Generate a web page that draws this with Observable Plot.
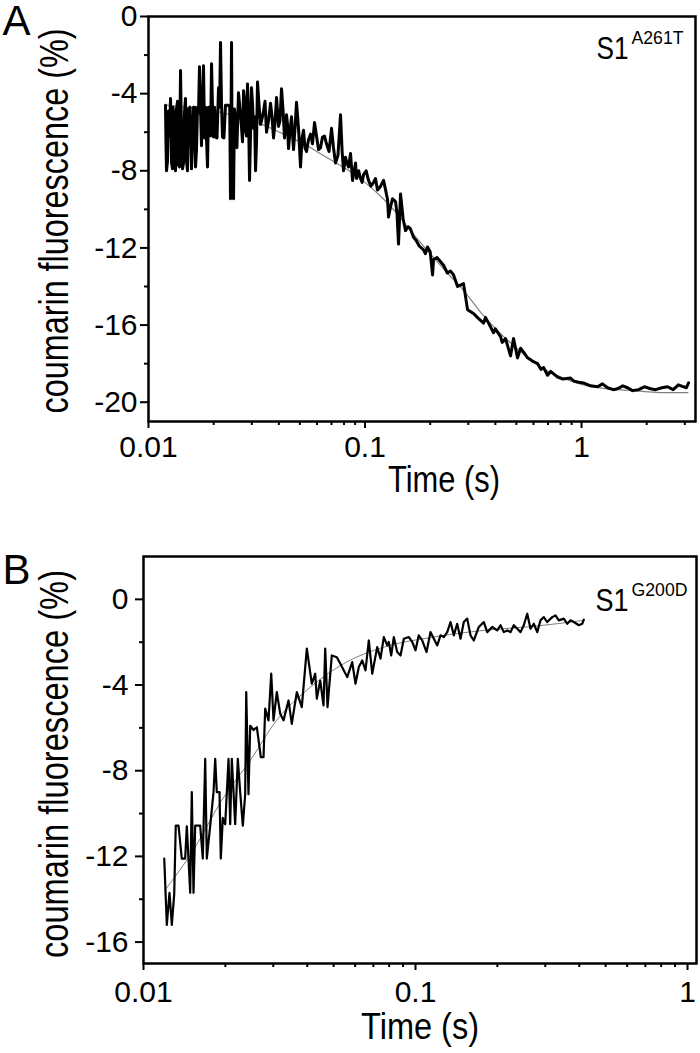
<!DOCTYPE html>
<html><head><meta charset="utf-8">
<script src="https://cdn.jsdelivr.net/npm/d3@7"></script>
<script src="https://cdn.jsdelivr.net/npm/@observablehq/plot@0.6"></script>
<style>body{margin:0;background:#fff} #chart svg{display:block}</style>
</head><body><div id="chart"></div>
<script>
// ---- Panel A (S1 A261T): measured trace ----
const timeA = [0.01198,0.01204,0.01211,0.01224,0.01237,0.0125,0.01264,0.01278,0.01291,0.01298,0.01305,0.01319,0.01333,0.0134,0.01347,0.01362,0.01376,0.0139,0.01406,0.01413,0.01421,0.01436,0.01451,0.01466,0.01482,0.01498,0.01514,0.01522,0.0153,0.01555,0.0158,0.01597,0.01614,0.01632,0.01649,0.01666,0.01684,0.01702,0.0172,0.01738,0.01757,0.01776,0.01795,0.01815,0.01834,0.01853,0.01873,0.01893,0.01913,0.01934,0.01955,0.01975,0.01996,0.02018,0.02039,0.02072,0.02106,0.0213,0.02151,0.02175,0.02197,0.0223,0.02268,0.02305,0.02342,0.02372,0.02392,0.02418,0.0243,0.0247,0.02495,0.02523,0.0256,0.02604,0.0265,0.02689,0.02718,0.02747,0.02775,0.02806,0.02836,0.02866,0.02897,0.02928,0.0296,0.02991,0.03025,0.03055,0.0309,0.03121,0.03155,0.03188,0.0324,0.03291,0.03345,0.03398,0.03452,0.03508,0.03585,0.03661,0.0372,0.03779,0.0384,0.03902,0.03986,0.04048,0.04115,0.0418,0.04248,0.0434,0.04385,0.04433,0.045,0.04576,0.04675,0.0475,0.04826,0.0493,0.05036,0.0512,0.052,0.0528,0.05368,0.0548,0.05601,0.0572,0.05845,0.0597,0.06099,0.0623,0.06364,0.065,0.06641,0.0682,0.07004,0.0715,0.07308,0.075,0.07707,0.0784,0.07957,0.08128,0.0825,0.08392,0.08572,0.0865,0.08756,0.0904,0.09137,0.0935,0.09534,0.097,0.09843,0.1012,0.1038,0.1065,0.1095,0.1118,0.1142,0.118,0.1218,0.1245,0.1271,0.1284,0.131,0.134,0.1383,0.1405,0.1428,0.1459,0.15,0.1539,0.158,0.162,0.1675,0.172,0.178,0.1863,0.19,0.1944,0.2,0.2051,0.2073,0.215,0.2305,0.24,0.2483,0.2564,0.2675,0.2851,0.2975,0.3171,0.33,0.3528,0.36,0.372,0.3923,0.4,0.4226,0.43,0.4457,0.47,0.4853,0.5064,0.5228,0.54,0.5634,0.6,0.6267,0.65,0.6677,0.6968,0.72,0.775,0.82,0.8898,0.92,0.9586,1.022,1.1,1.186,1.25,1.319,1.4,1.467,1.55,1.632,1.72,1.834,1.95,2.084,2.2,2.35,2.497,2.65,2.8,2.96,3.05,3.121];
const signalA = [-4.6,-6.5,-8.0,-7.5,-4.9,-6.2,-4.25,-7.6,-7.9,-4.7,-5.0,-7.2,-8.0,-5.5,-4.8,-4.4,-7.7,-7.8,-2.8,-4.6,-6.0,-7.9,-7.6,-5.0,-4.25,-7.5,-8.0,-6.3,-4.8,-4.7,-7.9,-6.5,-4.7,-4.7,-7.8,-6.9,-4.7,-5.0,-2.6,-4.6,-6.7,-4.7,-2.55,-6.3,-4.7,-6.3,-7.8,-4.7,-4.7,-6.2,-2.45,-4.7,-6.25,-4.7,-6.25,-6.3,-3.7,-4.7,-1.35,-4.6,-6.25,-6.3,-4.6,-4.6,-4.6,-4.7,-9.45,-1.35,-5.5,-9.45,-4.8,-5.3,-6.8,-3.95,-4.9,-5.75,-6.5,-3.85,-4.3,-5.9,-6.2,-3.5,-5.0,-8.5,-6.0,-3.7,-4.6,-5.8,-5.2,-8.0,-6.5,-3.4,-4.6,-5.6,-5.3,-4.9,-4.4,-6.0,-5.4,-4.5,-5.2,-6.3,-5.5,-4.2,-5.7,-5.4,-3.75,-4.8,-6.3,-5.1,-5.6,-6.85,-6.0,-5.2,-6.9,-5.8,-4.45,-5.8,-7.8,-6.3,-5.9,-6.8,-7.0,-6.4,-6.1,-6.6,-5.5,-6.2,-6.9,-6.8,-6.25,-6.2,-6.6,-7.0,-5.8,-6.8,-7.6,-7.2,-5.1,-7.0,-8.0,-7.3,-7.6,-7.8,-7.1,-7.7,-8.5,-7.6,-8.4,-8.0,-8.4,-8.6,-8.2,-8.0,-8.5,-8.8,-8.6,-8.4,-9.0,-8.8,-8.5,-9.0,-9.5,-10.4,-9.9,-9.45,-9.6,-10.2,-11.8,-9.2,-10.5,-11.1,-10.9,-11.0,-11.45,-11.6,-11.9,-12.1,-12.3,-11.95,-12.2,-13.4,-12.6,-12.5,-12.9,-13.3,-13.2,-13.4,-14.0,-13.85,-15.2,-15.4,-15.6,-15.9,-15.6,-15.9,-16.4,-16.2,-16.6,-16.9,-16.7,-17.6,-16.7,-17.7,-17.2,-17.4,-17.7,-17.9,-18.0,-18.3,-18.2,-18.6,-18.4,-18.7,-18.8,-18.75,-18.9,-18.95,-19.0,-19.15,-19.2,-19.05,-19.25,-19.35,-19.3,-19.15,-19.25,-19.4,-19.35,-19.2,-19.3,-19.35,-19.25,-19.2,-19.35,-19.1,-19.2,-19.25,-19.0];
// ---- Panel A fit ----
const fitTimeA = [0.012,0.016,0.02,0.025,0.032,0.042,0.052,0.062,0.07,0.083,0.1,0.12,0.14,0.162,0.2,0.24,0.285,0.34,0.41,0.49,0.58,0.7,0.85,1.02,1.3,1.74,2.3,3.1];
const fitA = [-4.6,-4.75,-4.9,-5.15,-5.5,-6.1,-6.6,-7.1,-7.45,-7.95,-8.6,-9.4,-10.2,-11.1,-12.3,-13.3,-14.2,-15.3,-16.3,-17.1,-17.8,-18.4,-18.8,-19.1,-19.3,-19.4,-19.5,-19.5];

// ---- Panel B (S1 G200D): measured trace ----
const timeB = [0.01192,0.01218,0.01246,0.01271,0.01297,0.01314,0.01345,0.01383,0.01423,0.01443,0.01485,0.01505,0.01527,0.01549,0.01616,0.01652,0.01686,0.01709,0.01759,0.01809,0.01835,0.0186,0.01903,0.01924,0.01957,0.01997,0.02054,0.02083,0.02112,0.02173,0.02222,0.02267,0.02318,0.02365,0.02386,0.02432,0.02468,0.02538,0.0261,0.0267,0.02699,0.02762,0.02802,0.02881,0.02948,0.03006,0.03091,0.03181,0.03271,0.03413,0.03509,0.03661,0.03819,0.03985,0.04157,0.04278,0.04337,0.04463,0.0459,0.04656,0.04748,0.04924,0.05137,0.05287,0.0561,0.05852,0.06017,0.06188,0.06369,0.06549,0.06735,0.06932,0.07231,0.07436,0.07647,0.0787,0.07977,0.08141,0.08322,0.08565,0.08808,0.09058,0.0945,0.09726,0.1,0.1028,0.1058,0.1098,0.1135,0.1168,0.1202,0.1236,0.1271,0.1308,0.1345,0.1383,0.1423,0.1464,0.1505,0.1549,0.1593,0.1638,0.1709,0.1783,0.1835,0.1914,0.1997,0.2054,0.2112,0.2174,0.2235,0.2298,0.2366,0.2433,0.2501,0.2575,0.2647,0.2722,0.2802,0.2881,0.2963,0.3049,0.3181,0.3271,0.3364,0.3509,0.3612,0.3714,0.382,0.3985,0.4101,0.4157];
const signalB = [-12.1,-15.2,-13.7,-15.2,-13.75,-10.56,-10.56,-12.1,-12.1,-10.6,-13.7,-9.0,-13.7,-10.56,-10.56,-12.1,-7.45,-12.1,-10.56,-9.0,-7.45,-9.0,-9.0,-12.1,-10.2,-10.5,-7.45,-10.5,-7.45,-10.5,-7.45,-9.0,-10.56,-9.1,-4.33,-9.1,-5.9,-6.1,-5.97,-6.9,-7.37,-7.37,-5.1,-5.65,-3.47,-5.65,-4.33,-5.34,-5.65,-4.72,-5.81,-4.33,-5.03,-2.3,-3.94,-3.47,-4.64,-3.79,-4.95,-2.3,-5.03,-2.62,-2.7,-3.0,-3.63,-2.93,-3.94,-3.16,-2.85,-3.32,-1.92,-3.47,-2.23,-2.77,-1.76,-2.15,-1.99,-2.62,-1.76,-2.46,-2.62,-1.84,-1.76,-1.99,-2.38,-1.68,-1.92,-2.46,-1.53,-1.84,-2.15,-1.68,-1.76,-1.53,-1.06,-1.68,-1.14,-1.84,-1.06,-0.9,-1.68,-1.92,-1.29,-1.06,-1.53,-1.29,-1.45,-1.21,-1.53,-1.45,-1.53,-1.21,-1.37,-1.53,-1.21,-0.67,-1.37,-1.14,-1.53,-0.98,-0.83,-1.06,-0.83,-0.75,-0.98,-0.9,-1.14,-0.98,-1.06,-1.21,-1.14,-0.95];
// ---- Panel B fit ----
const fitTimeB = [0.01194,0.01527,0.01935,0.02475,0.03084,0.04107,0.0545,0.07647,0.1168,0.1783,0.2722,0.4157];
const fitB = [-13.6,-11.7,-9.4,-7.5,-5.65,-4.1,-3.0,-2.23,-1.76,-1.45,-1.26,-0.98];

// ---- axes ----
const xMajorA = [0.01, 0.1, 1];
const xMinorA = [0.02,0.03,0.04,0.05,0.06,0.07,0.08,0.09,0.2,0.3,0.4,0.5,0.6,0.7,0.8,0.9,2,3];
const xMajorB = [0.01, 0.1, 1];
const xMinorB = [0.02,0.03,0.04,0.05,0.06,0.07,0.08,0.09,0.2,0.3,0.4,0.5,0.6,0.7,0.8,0.9];
const yMajorA = [0,-4,-8,-12,-16,-20];
const yMinorA = [-2,-6,-10,-14,-18];
const yMajorB = [0,-4,-8,-12,-16];
const yMinorB = [-2,-6,-10,-14];

const yTitle = "coumarin fluorescence (%)";
const xTitle = "Time (s)";
const labelA = "S1", supA = "A261T";
const labelB = "S1", supB = "G200D";

const font = "'Liberation Sans', Arial, Helvetica, sans-serif";

const rows = (ts, vs) => d3.sort(ts.map((t, i) => ({t, v: vs[i]})), d => d.t);

function axes(xMajor, xMinor, yMajor, yMinor, xPad, yPad) {
  return [
    Plot.axisX({ticks: xMajor, tickSize: 7, strokeWidth: 2, tickPadding: xPad, fontSize: 30, tickFormat: d => String(d), label: null}),
    Plot.axisX({ticks: xMinor, tickSize: 4, strokeWidth: 2, tickFormat: () => "", label: null}),
    Plot.axisY({ticks: yMajor, tickSize: 8, strokeWidth: 2, tickPadding: yPad, fontSize: 30, tickFormat: d => String(d), label: null}),
    Plot.axisY({ticks: yMinor, tickSize: 4, strokeWidth: 2, tickFormat: () => "", label: null})
  ];
}

// condense a text to a given length (the original uses a narrow face)
function condense(svg, text, len) {
  d3.select(svg).selectAll("text")
    .filter(function() { return this.textContent === text; })
    .attr("textLength", len).attr("lengthAdjust", "spacingAndGlyphs");
}

const plotA = Plot.plot({
  width: 700, height: 520,
  marginLeft: 148, marginRight: 5, marginTop: 16, marginBottom: 99,
  style: {fontFamily: font, background: "white", color: "black", overflow: "visible"},
  x: {type: "log", domain: [0.01, 3.36]},
  y: {domain: [-21, 0]},
  marks: [
    ...axes(xMajorA, xMinorA, yMajorA, yMinorA, 7, 3),
    Plot.line(rows(fitTimeA, fitA), {x: "t", y: "v", stroke: "#808080", strokeWidth: 1.2, curve: "monotone-x"}),
    Plot.line(rows(timeA, signalA), {x: "t", y: "v", stroke: "black", strokeWidth: 3}),
    Plot.frame({stroke: "black", strokeWidth: 2.5}),
    Plot.text([yTitle], {frameAnchor: "left", rotate: -90, textAnchor: "middle", lineAnchor: "bottom", dx: -81, dy: 2, fontSize: 40}),
    Plot.text([xTitle], {frameAnchor: "bottom", textAnchor: "middle", lineAnchor: "bottom", dx: 22, dy: 70, fontSize: 36}),
    Plot.text([labelA], {frameAnchor: "top-right", textAnchor: "end", lineAnchor: "bottom", dx: -67, dy: 42, fontSize: 32}),
    Plot.text([supA], {frameAnchor: "top-right", textAnchor: "end", lineAnchor: "bottom", dx: -12, dy: 27, fontSize: 18}),
    Plot.text(["A"], {frameAnchor: "top-left", textAnchor: "start", lineAnchor: "bottom", dx: -146, dy: 18, fontSize: 42})
  ]
});
condense(plotA, yTitle, 385);
condense(plotA, xTitle, 112);
condense(plotA, labelA, 32);
condense(plotA, supA, 52);

const plotB = Plot.plot({
  width: 700, height: 533,
  marginLeft: 143, marginRight: 4, marginTop: 36, marginBottom: 90,
  style: {fontFamily: font, background: "white", color: "black", overflow: "visible"},
  x: {type: "log", domain: [0.01, 1.079]},
  y: {domain: [-17, 2]},
  marks: [
    ...axes(xMajorB, xMinorB, yMajorB, yMinorB, 10, 7),
    Plot.line(rows(fitTimeB, fitB), {x: "t", y: "v", stroke: "#808080", strokeWidth: 1, curve: "monotone-x"}),
    Plot.line(rows(timeB, signalB), {x: "t", y: "v", stroke: "black", strokeWidth: 2.2}),
    Plot.frame({stroke: "black", strokeWidth: 2.5}),
    Plot.text([yTitle], {frameAnchor: "left", rotate: -90, textAnchor: "middle", lineAnchor: "bottom", dx: -76, dy: 4, fontSize: 40}),
    Plot.text([xTitle], {frameAnchor: "bottom", textAnchor: "middle", lineAnchor: "bottom", dx: 0, dy: 75, fontSize: 36}),
    Plot.text([labelB], {frameAnchor: "top-right", textAnchor: "end", lineAnchor: "bottom", dx: -68, dy: 54, fontSize: 32}),
    Plot.text([supB], {frameAnchor: "top-right", textAnchor: "end", lineAnchor: "bottom", dx: -9, dy: 39, fontSize: 18}),
    Plot.text(["B"], {frameAnchor: "top-left", textAnchor: "start", lineAnchor: "bottom", dx: -141, dy: 27, fontSize: 42})
  ]
});
condense(plotB, yTitle, 388);
condense(plotB, xTitle, 118);
condense(plotB, labelB, 33);
condense(plotB, supB, 56);

const chart = document.getElementById("chart");
chart.appendChild(plotA);
chart.appendChild(plotB);
</script>
</body></html>
